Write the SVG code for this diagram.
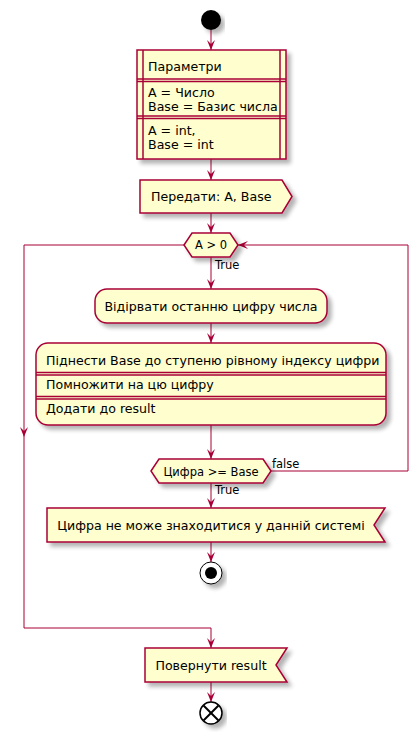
<svg xmlns="http://www.w3.org/2000/svg" width="419" height="732" viewBox="0 0 419 732">
<defs>
<filter id="sh" x="-20%" y="-20%" width="140%" height="160%">
<feGaussianBlur in="SourceAlpha" stdDeviation="2"/>
<feOffset dx="4" dy="4" result="b"/>
<feComponentTransfer><feFuncA type="linear" slope="0.3"/></feComponentTransfer>
<feMerge><feMergeNode/><feMergeNode in="SourceGraphic"/></feMerge>
</filter>
<marker id="ah" viewBox="0 0 10 8" refX="10" refY="4" markerWidth="10" markerHeight="8" markerUnits="userSpaceOnUse" orient="auto">
<path d="M0,0 L10,4 L0,8 L4,4 Z" fill="#A80036"/>
</marker>
</defs>
<style>
.n{fill:#FEFECE;stroke:#A80036;stroke-width:1.5}
.sep{stroke:#A80036;stroke-width:1.5;fill:none}
.c{stroke:#A80036;stroke-width:1;fill:none}
.ca{stroke:#A80036;stroke-width:1;fill:none;marker-end:url(#ah)}
.t{font-family:"DejaVu Sans","Liberation Sans",sans-serif;font-size:12.6px;fill:#000}
.s{font-family:"DejaVu Sans","Liberation Sans",sans-serif;font-size:11.5px;fill:#000}
</style>
<rect width="419" height="732" fill="#fff"/>

<g id="connectors">
<line class="ca" x1="211" y1="30" x2="211" y2="50"/>
<line class="ca" x1="211" y1="159" x2="211" y2="180"/>
<line class="ca" x1="211" y1="213" x2="211" y2="233"/>
<line class="ca" x1="211" y1="257" x2="211" y2="289"/>
<line class="ca" x1="211" y1="323" x2="211" y2="343"/>
<line class="ca" x1="211" y1="425" x2="211" y2="459"/>
<line class="ca" x1="211" y1="483" x2="211" y2="508"/>
<line class="ca" x1="211" y1="542" x2="211" y2="562"/>
<polyline class="ca" points="184,245 24,245 24,437"/>
<polyline class="ca" points="24,437 24,628 211,628 211,648"/>
<polyline class="ca" points="271,471 408,471 408,245 238,245"/>
<line class="ca" x1="211" y1="682" x2="211" y2="702"/>
<text class="s" x="215" y="269">True</text>
<text class="s" x="272" y="468">false</text>
<text class="s" x="215" y="494">True</text>
</g>

<g id="start">
<circle cx="211" cy="20" r="10" fill="#000" filter="url(#sh)"/>
</g>

<g id="params">
<rect class="n" x="137" y="50" width="149" height="109" filter="url(#sh)"/>
<line class="sep" x1="143" y1="50" x2="143" y2="159"/>
<line class="sep" x1="280" y1="50" x2="280" y2="159"/>
<line class="sep" x1="137" y1="79" x2="286" y2="79"/>
<line class="sep" x1="137" y1="81.5" x2="286" y2="81.5"/>
<line class="sep" x1="137" y1="116" x2="286" y2="116"/>
<line class="sep" x1="137" y1="118.5" x2="286" y2="118.5"/>
<text class="t" x="148" y="71">Параметри</text>
<text class="t" x="148" y="97">A = Число</text>
<text class="t" x="148" y="111">Base = Базис числа</text>
<text class="t" x="148" y="135">A = int,</text>
<text class="t" x="148" y="149">Base = int</text>
</g>

<g id="send">
<polygon class="n" points="140,180 282,180 292,196.5 282,213 140,213" filter="url(#sh)"/>
<text class="t" x="151" y="201">Передати: A, Base</text>
</g>

<g id="loop">
<polygon class="n" points="184,245 192,233 230,233 238,245 230,257 192,257" filter="url(#sh)"/>
<text class="s" x="211" y="249" text-anchor="middle">A &gt; 0</text>
</g>

<g id="tear">
<rect class="n" x="95" y="289" width="232" height="34" rx="12" ry="12" filter="url(#sh)"/>
<text class="t" x="211" y="311" text-anchor="middle">Відірвати останню цифру числа</text>
</g>

<g id="calc">
<rect class="n" x="36" y="343" width="350" height="82" rx="12" ry="12" filter="url(#sh)"/>
<line class="sep" x1="36" y1="372.5" x2="386" y2="372.5"/>
<line class="sep" x1="36" y1="375" x2="386" y2="375"/>
<line class="sep" x1="36" y1="396.5" x2="386" y2="396.5"/>
<line class="sep" x1="36" y1="399" x2="386" y2="399"/>
<text class="t" x="46" y="365">Піднести Base до ступеню рівному індексу цифри</text>
<text class="t" x="46" y="389">Помножити на цю цифру</text>
<text class="t" x="46" y="413">Додати до result</text>
</g>

<g id="check">
<polygon class="n" points="151,471 159,459 263,459 271,471 263,483 159,483" filter="url(#sh)"/>
<text class="s" x="211" y="475.5" text-anchor="middle">Цифра &gt;= Base</text>
</g>

<g id="error">
<polygon class="n" points="47,508 385,508 374,525 385,542 47,542" filter="url(#sh)"/>
<text class="t" x="211" y="529.5" text-anchor="middle">Цифра не може знаходитися у данній системі</text>
</g>

<g id="stop">
<circle cx="211" cy="573" r="11" fill="#fff" stroke="#000" stroke-width="1" filter="url(#sh)"/>
<circle cx="211" cy="573" r="6" fill="#000"/>
</g>

<g id="return">
<polygon class="n" points="145,648 287,648 276,665 287,682 145,682" filter="url(#sh)"/>
<text class="t" x="211" y="669.5" text-anchor="middle">Повернути result</text>
</g>

<g id="end">
<circle cx="211" cy="713" r="11" fill="#fff" stroke="#000" stroke-width="1.5" filter="url(#sh)"/>
<line x1="203.5" y1="705.5" x2="218.5" y2="720.5" stroke="#000" stroke-width="2"/>
<line x1="218.5" y1="705.5" x2="203.5" y2="720.5" stroke="#000" stroke-width="2"/>
</g>
</svg>
